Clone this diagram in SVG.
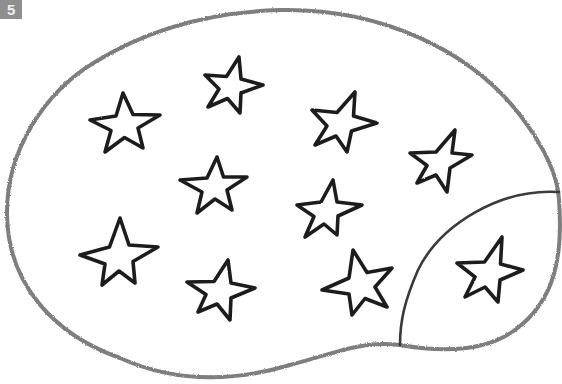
<svg xmlns="http://www.w3.org/2000/svg" width="562" height="384" viewBox="0 0 562 384">
  <style>
    .outline { fill: none; stroke: #7e7e7e; stroke-width: 4; stroke-linecap: round; stroke-linejoin: round; }
    .divider { fill: none; stroke: #3a3a3a; stroke-width: 2.6; stroke-linecap: round; }
    .star { fill: #ffffff; stroke: #1f1f1f; stroke-width: 3.6; stroke-linejoin: round; }
    .badge { fill: #8e8e8e; }
    .badge-text { font-family: "Liberation Sans", Arial, sans-serif; font-weight: bold; font-size: 15px; fill: #efefef; }
  </style>
  <defs>
    <filter id="pencil" x="-5%" y="-5%" width="110%" height="110%">
      <feTurbulence type="fractalNoise" baseFrequency="0.9" numOctaves="2" seed="3" result="noise"/>
      <feDisplacementMap in="SourceGraphic" in2="noise" scale="2.4" xChannelSelector="R" yChannelSelector="G"/>
    </filter>
    <filter id="ink" x="-10%" y="-10%" width="120%" height="120%">
      <feTurbulence type="fractalNoise" baseFrequency="0.7" numOctaves="2" seed="7" result="noise"/>
      <feDisplacementMap in="SourceGraphic" in2="noise" scale="1.4" xChannelSelector="R" yChannelSelector="G"/>
    </filter>
  </defs>
  <rect width="562" height="384" fill="#ffffff"/>

  <g id="badge">
    <rect class="badge" x="0" y="0" width="22" height="19"/>
    <text class="badge-text" x="7" y="15">5</text>
  </g>

  <g id="connectors">
    <path id="outline" class="outline" filter="url(#pencil)" d="M 280,10 C 380,8 470,50 520,115 C 545,148 558,175 559,200 C 563,255 556,300 515,330 C 485,352 440,352 400,345 C 360,340 330,355 290,365 C 240,380 180,385 120,358 C 55,335 8,285 7,215 C 6,150 45,92 95,62 C 150,28 210,12 280,10 Z"/>
    <path id="divider" class="divider" filter="url(#ink)" d="M 559,192 C 500,188 440,225 418,270 C 405,300 400,320 400,345"/>
  </g>

  <g id="star1" filter="url(#ink)"><polygon class="star" points="123,93 133,114.5 160,115 138,128 143,148 124.5,137.5 105,152 111,130.5 90,120 116,116"/></g>
  <g id="star2" filter="url(#ink)"><polygon class="star" points="239,57 241,79 263,85 241,93 240,113 227.5,98.5 208,107 219,89 205,75 226.5,76.5"/></g>
  <g id="star3" filter="url(#ink)"><polygon class="star" points="217,157 223.5,177 247,177 227,190 232,210 215,199 197,213 202,192 180,180 207,178"/></g>
  <g id="star4" filter="url(#ink)"><polygon class="star" points="355,92 353.5,116 377,123 351.5,131 347,152 336,136 315,145 327,126 312,110 337,112.5"/></g>
  <g id="star5" filter="url(#ink)"><polygon class="star" points="455,130 452,153 472,155 450,168 447,192 436,175 417,183 427,165.5 410,153 436,152"/></g>
  <g id="star6" filter="url(#ink)"><polygon class="star" points="333,180 337,202 362,205 338,216 337,235 324,224 305,237 314,216.5 297,205 321,202"/></g>
  <g id="star7" filter="url(#ink)"><polygon class="star" points="120,218 129,245 158,247 133,261.5 135,283 119,271 102,285 105,264 80,255 109.5,247"/></g>
  <g id="star8" filter="url(#ink)"><polygon class="star" points="228,260 231,283 255,288 231,298 230,320 217,304 198,312 206,294.5 187,282 214,281.5"/></g>
  <g id="star9" filter="url(#ink)"><polygon class="star" points="353,250 367,272.5 392,268 375,287 387,307 365,298.5 352,315 349,294 322,290 349,278"/></g>
  <g id="star10" filter="url(#ink)"><polygon class="star" points="502,237 500.5,264 523,270 500,280 498,302 485,287 465,297 475,277 457,263 484.5,262"/></g>
</svg>
